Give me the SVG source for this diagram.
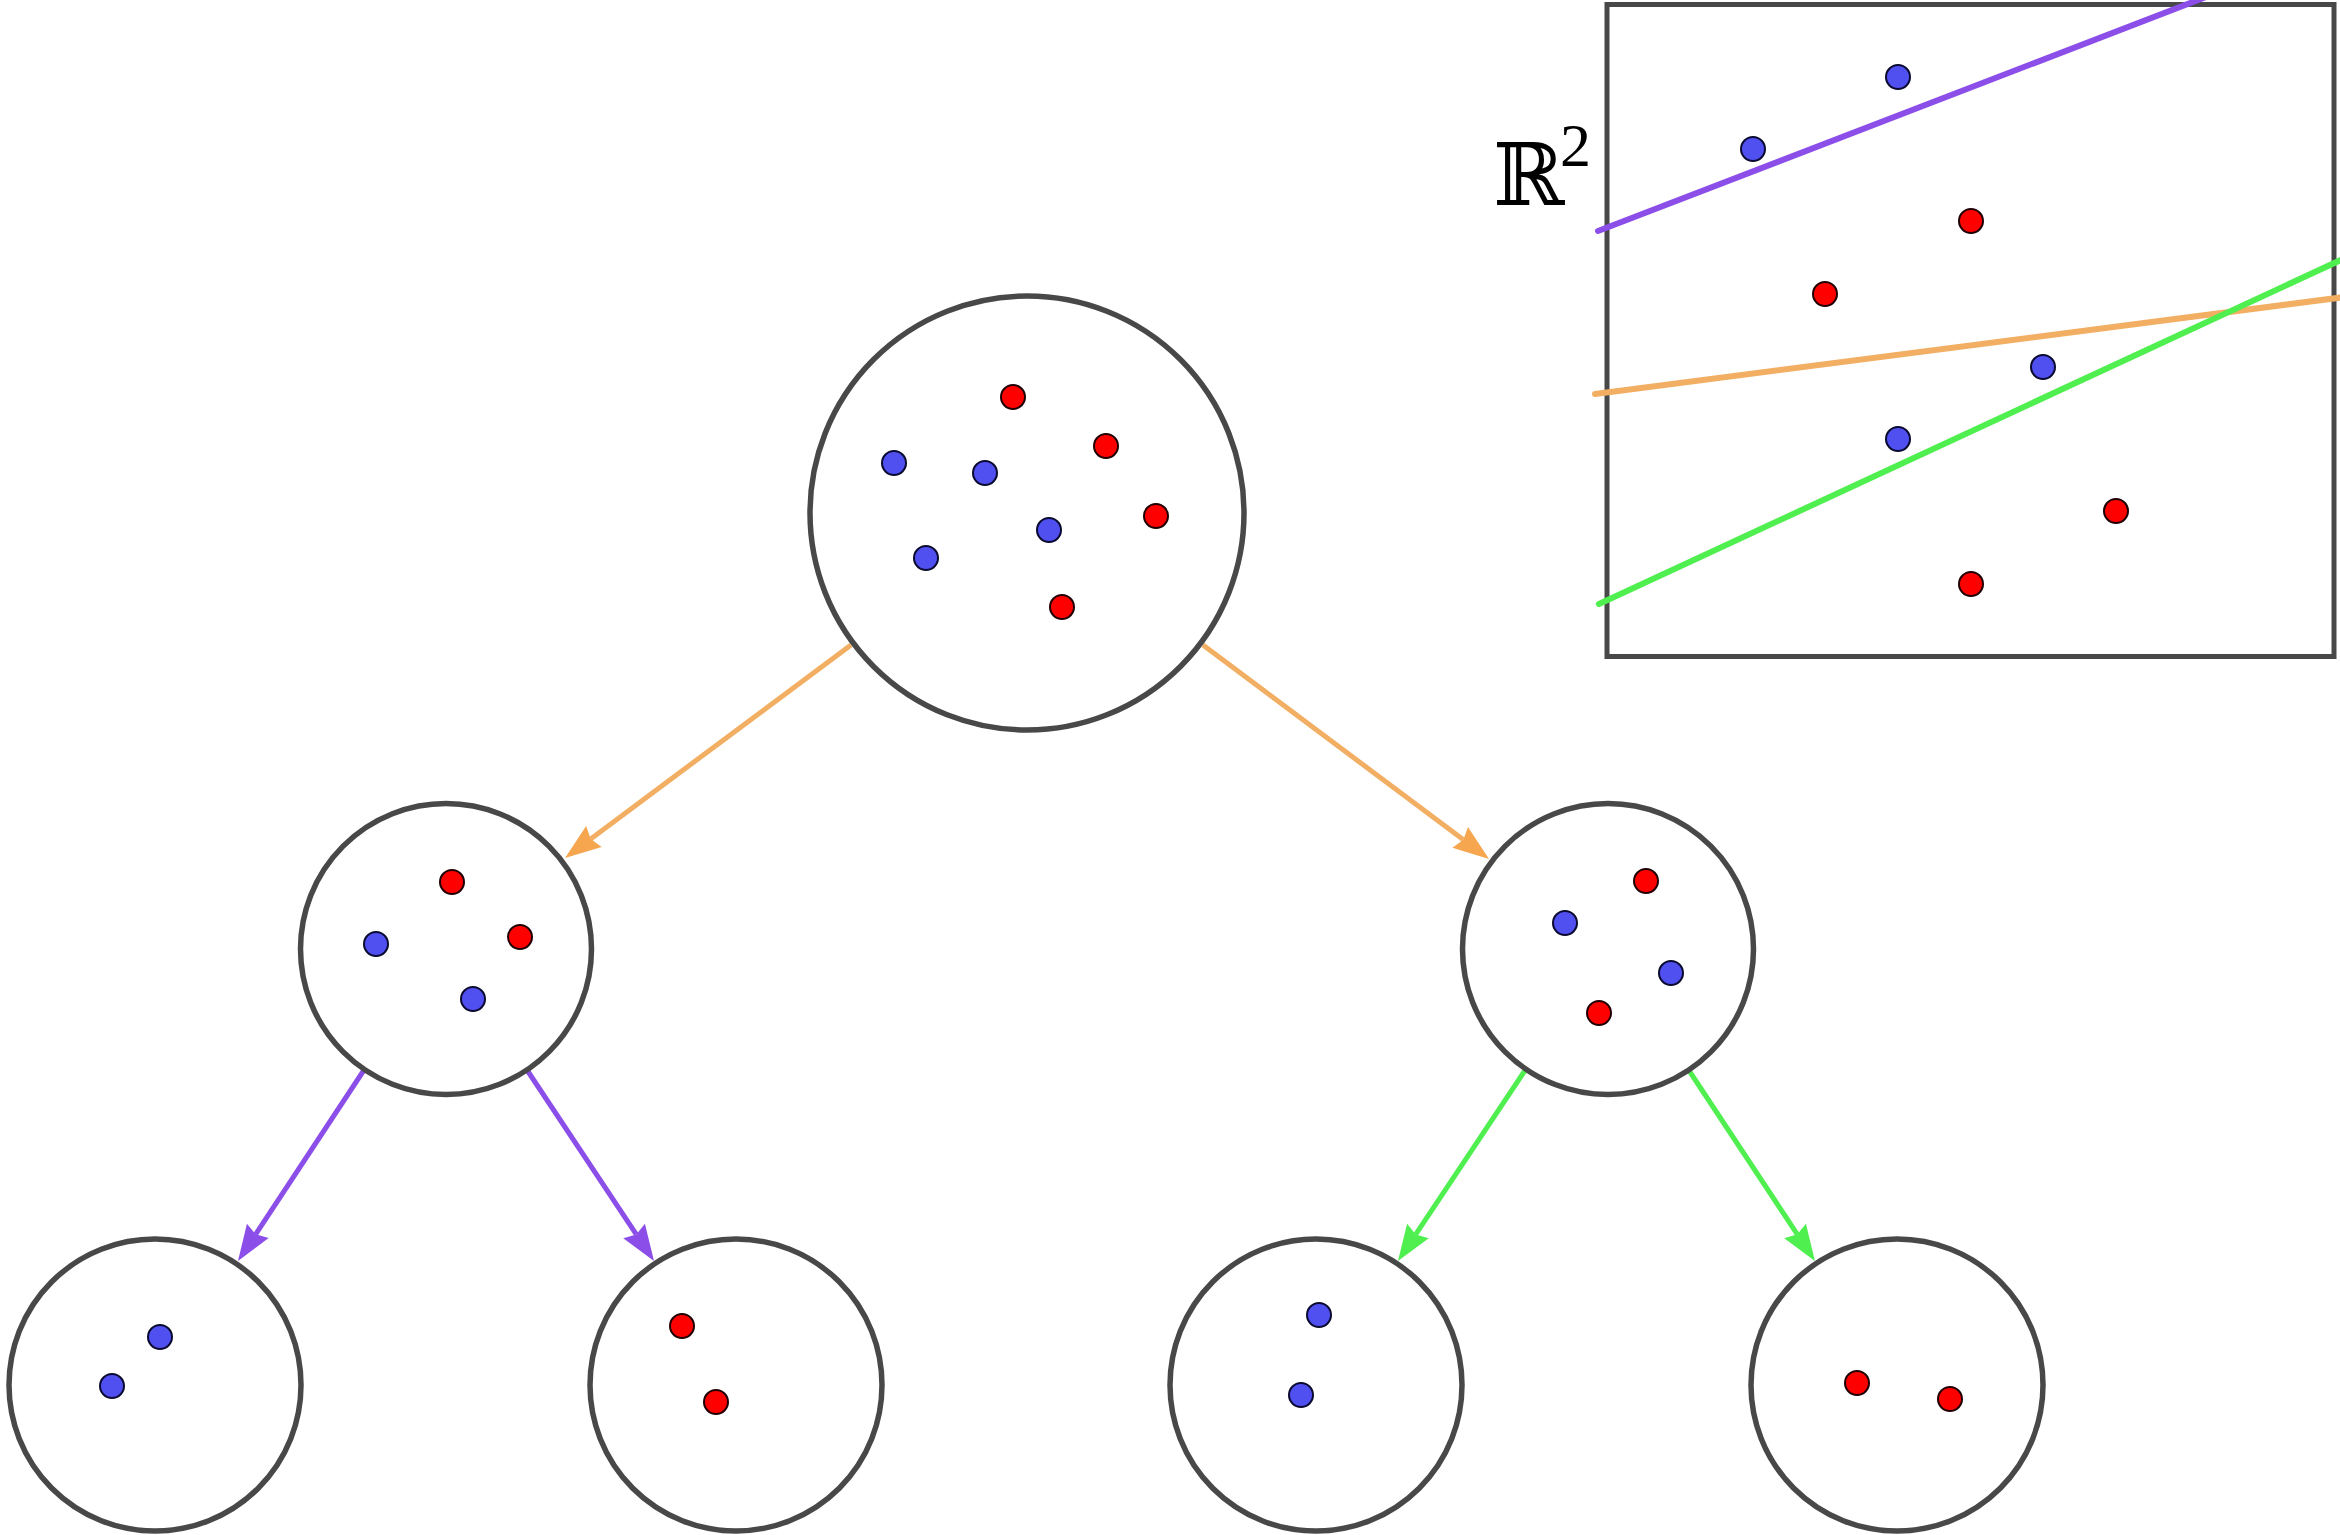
<svg xmlns="http://www.w3.org/2000/svg" width="2340" height="1535" viewBox="0 0 2340 1535">
<style>
.node{fill:#ffffff;stroke:#484848;stroke-width:5.5}
.b{fill:#5050f0;stroke:#0a0a30;stroke-width:2}
.r{fill:#ff0000;stroke:#200000;stroke-width:2}
.conn{fill:none;stroke-width:5}
.sep{fill:none;stroke-width:6;stroke-linecap:round}
.or{stroke:#f2ae62}
.pu{stroke:#8c4ee8}
.gr{stroke:#50ef50}
</style>
<defs>
<marker id="hOr" markerUnits="userSpaceOnUse" markerWidth="40" markerHeight="28" refX="0" refY="0" orient="auto" overflow="visible"><path d="M32,0 L-4,13 L0,0 L-4,-13 Z" fill="#f5a64e"/></marker>
<marker id="hPu" markerUnits="userSpaceOnUse" markerWidth="40" markerHeight="28" refX="0" refY="0" orient="auto" overflow="visible"><path d="M32,0 L-4,13 L0,0 L-4,-13 Z" fill="#8c4ee8"/></marker>
<marker id="hGr" markerUnits="userSpaceOnUse" markerWidth="40" markerHeight="28" refX="0" refY="0" orient="auto" overflow="visible"><path d="M32,0 L-4,13 L0,0 L-4,-13 Z" fill="#50ef50"/></marker>
</defs>
<rect width="2340" height="1535" fill="#ffffff"/>

<g id="plane">
<rect x="1607" y="4.5" width="727" height="652" fill="none" stroke="#484848" stroke-width="5"/>
<line class="sep pu" x1="1598" y1="231" x2="2211" y2="-5"/>
<line class="sep or" x1="1595" y1="394" x2="2345" y2="297"/>
<line class="sep gr" x1="1599" y1="604" x2="2345" y2="258"/>
<circle class="b" cx="1898" cy="77" r="12"/>
<circle class="b" cx="1753" cy="149" r="12"/>
<circle class="r" cx="1971" cy="221" r="12"/>
<circle class="r" cx="1825" cy="294" r="12"/>
<circle class="b" cx="2043" cy="367" r="12"/>
<circle class="b" cx="1898" cy="439" r="12"/>
<circle class="r" cx="2116" cy="511" r="12"/>
<circle class="r" cx="1971" cy="584" r="12"/>
<text x="1493" y="205" font-family="DejaVu Serif, Liberation Serif, serif" font-size="86" fill="#000">ℝ</text>
<text x="1560" y="166" font-family="Liberation Serif, DejaVu Serif, serif" font-size="62" fill="#000">2</text>
</g>

<g id="connectors">
<line class="conn or" x1="851" y1="645" x2="590.7" y2="838.9" marker-end="url(#hOr)"/>
<line class="conn or" x1="1203" y1="645" x2="1463.4" y2="839.8" marker-end="url(#hOr)"/>
<line class="conn pu" x1="364" y1="1070" x2="255.6" y2="1234.3" marker-end="url(#hPu)"/>
<line class="conn pu" x1="527" y1="1070" x2="636.3" y2="1234.4" marker-end="url(#hPu)"/>
<line class="conn gr" x1="1526" y1="1069" x2="1415.7" y2="1234.4" marker-end="url(#hGr)"/>
<line class="conn gr" x1="1688" y1="1069" x2="1797.3" y2="1234.3" marker-end="url(#hGr)"/>
</g>

<g id="root">
<circle class="node" cx="1027" cy="513" r="217"/>
<circle class="r" cx="1013" cy="397" r="12"/>
<circle class="r" cx="1106" cy="446" r="12"/>
<circle class="b" cx="894" cy="463" r="12"/>
<circle class="b" cx="985" cy="473" r="12"/>
<circle class="b" cx="1049" cy="530" r="12"/>
<circle class="r" cx="1156" cy="516" r="12"/>
<circle class="b" cx="926" cy="558" r="12"/>
<circle class="r" cx="1062" cy="607" r="12"/>
</g>

<g id="midLeft">
<circle class="node" cx="446" cy="949" r="145.5"/>
<circle class="r" cx="452" cy="882" r="12"/>
<circle class="b" cx="376" cy="944" r="12"/>
<circle class="r" cx="520" cy="937" r="12"/>
<circle class="b" cx="473" cy="999" r="12"/>
</g>

<g id="midRight">
<circle class="node" cx="1608" cy="949" r="145.5"/>
<circle class="r" cx="1646" cy="881" r="12"/>
<circle class="b" cx="1565" cy="923" r="12"/>
<circle class="b" cx="1671" cy="973" r="12"/>
<circle class="r" cx="1599" cy="1013" r="12"/>
</g>

<g id="leaf1">
<circle class="node" cx="155" cy="1385" r="146"/>
<circle class="b" cx="160" cy="1337" r="12"/>
<circle class="b" cx="112" cy="1386" r="12"/>
</g>

<g id="leaf2">
<circle class="node" cx="736" cy="1385" r="146"/>
<circle class="r" cx="682" cy="1326" r="12"/>
<circle class="r" cx="716" cy="1402" r="12"/>
</g>

<g id="leaf3">
<circle class="node" cx="1316" cy="1385" r="146"/>
<circle class="b" cx="1319" cy="1315" r="12"/>
<circle class="b" cx="1301" cy="1395" r="12"/>
</g>

<g id="leaf4">
<circle class="node" cx="1897" cy="1385" r="146"/>
<circle class="r" cx="1857" cy="1383" r="12"/>
<circle class="r" cx="1950" cy="1399" r="12"/>
</g>
</svg>
